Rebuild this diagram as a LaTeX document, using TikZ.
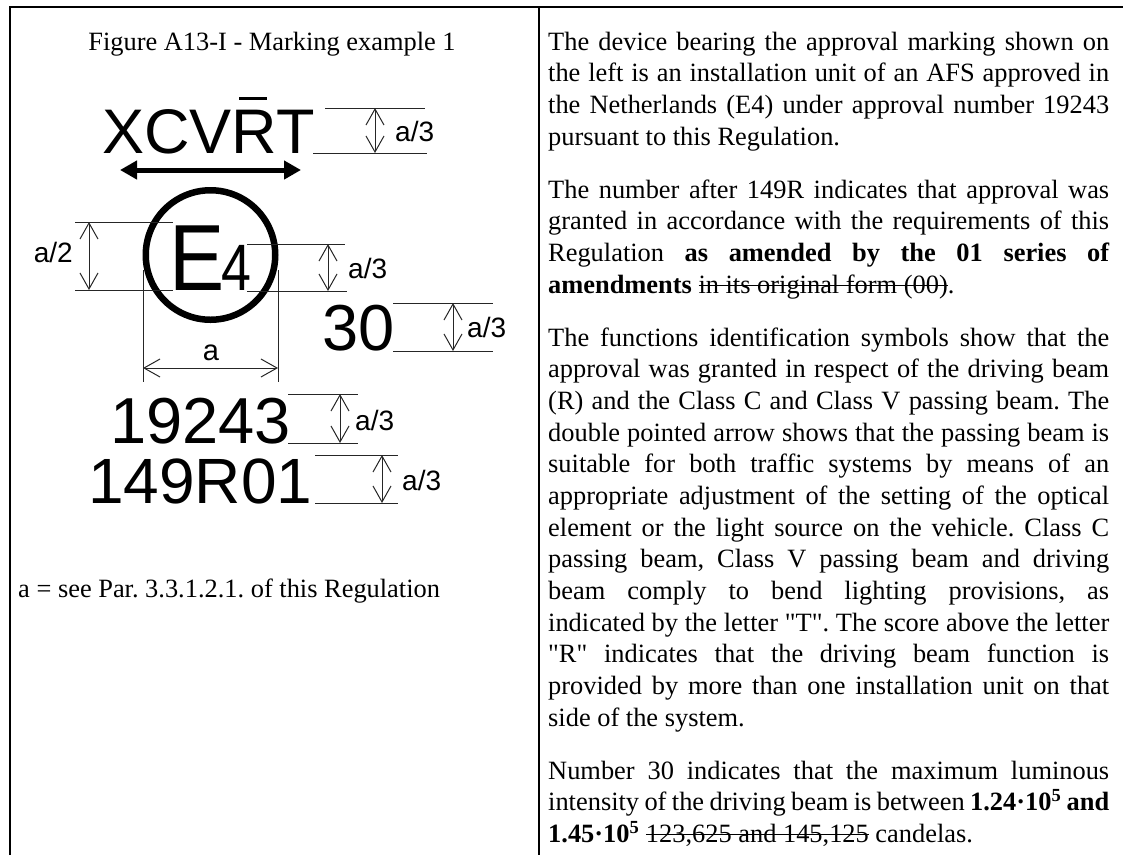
\documentclass[tikz,border=0pt]{standalone}
\usepackage{fontspec}
\setmainfont{Liberation Serif}[Ligatures=TeXOff]
\newfontfamily\arialfont{Liberation Sans}
\newsavebox{\strikebox}
\newcommand{\mystrike}[1]{\sbox{\strikebox}{#1}\rlap{\rule[0.27em]{\wd\strikebox}{1.1pt}}\usebox{\strikebox}}
\usetikzlibrary{arrows.meta}
\tikzset{
  tableline/.style={line width=2.5pt, line join=miter},
  dimline/.style={line width=1pt, black!85},
  dimarrow/.style={dimline, {Straight Barb[length=16pt,width=18pt]}-{Straight Barb[length=16pt,width=18pt]}},
  dimlabel/.style={font=\arialfont\fontsize{28}{28}\selectfont, inner sep=0pt, anchor=west},
  bigsans/.style={font=\arialfont\fontsize{#1}{#1}\selectfont, inner sep=0pt, anchor=base west},
  bodytext/.style={font=\frenchspacing\fontsize{26.4}{31.67}\selectfont, inner sep=0pt}
}
\begin{document}
\begin{tikzpicture}[x=1pt,y=-1pt]
\useasboundingbox (0,0) rectangle (1123,855);
% table frame
\coordinate (tl) at (10,7);
\coordinate (tr) at (1123,7);
\coordinate (bl) at (10,855);
\coordinate (mt) at (539,7);
\coordinate (mb) at (539,855);
\draw[tableline] (bl) -- (tl) -- (tr);
\draw[tableline] (mt) -- (mb);

% title
\node[bodytext, anchor=base] (title) at (272,50) {Figure A13-I - Marking example 1};

% XCVRT with bar over R
\node[bigsans=63] (xcvrt) at (102,153) {XCV\rlap{\hspace{0.12em}\rule[0.84em]{0.44em}{3pt}}RT};
\coordinate (arl) at (120,170);
\coordinate (arr) at (301,170);
\draw[line width=5pt, {Triangle[length=17pt,width=18pt]}-{Triangle[length=17pt,width=18pt]}] (arl) -- (arr);
% dim XCVRT
\coordinate (x1a) at (325,108); \coordinate (x1b) at (425,108);
\coordinate (x2a) at (313,153); \coordinate (x2b) at (427,153);
\draw[dimline] (x1a) -- (x1b);
\draw[dimline] (x2a) -- (x2b);
\coordinate (xt) at (375,108); \coordinate (xb) at (375,153);
\draw[dimarrow] (xt) -- (xb);
\node[dimlabel] (lx) at (395,131) {a/3};

% circle with E4
\node[draw, circle, line width=6.5pt, minimum size=129.5pt, inner sep=0pt] (ring) at (210.5,255) {};
\node[bigsans=94] (e) at (169,290) {\scalebox{0.88}[1]{E}};
\node[bigsans=65.6] (four) at (221.6,290) {\scalebox{0.82}[1]{4}};

% a/2 dim
\coordinate (e1a) at (75,222); \coordinate (e1b) at (173,222);
\coordinate (e2a) at (75,290); \coordinate (e2b) at (173,290);
\draw[dimline] (e1a) -- (e1b);
\draw[dimline] (e2a) -- (e2b);
\coordinate (et) at (89,222); \coordinate (eb) at (89,290);
\draw[dimarrow] (et) -- (eb);
\node[dimlabel, anchor=east] (le) at (73,252) {a/2};

% a/3 dim for 4
\coordinate (f1a) at (247,244); \coordinate (f1b) at (345,244);
\coordinate (f2a) at (247,291); \coordinate (f2b) at (347,291);
\draw[dimline] (f1a) -- (f1b);
\draw[dimline] (f2a) -- (f2b);
\coordinate (ft) at (328,244); \coordinate (fb) at (328,291);
\draw[dimarrow] (ft) -- (fb);
\node[dimlabel] (lf) at (348,268) {a/3};

% 30
\node[bigsans=65] (thirty) at (322,350) {30};
\coordinate (t1a) at (393,303); \coordinate (t1b) at (493,303);
\coordinate (t2a) at (393,351); \coordinate (t2b) at (493,351);
\draw[dimline] (t1a) -- (t1b);
\draw[dimline] (t2a) -- (t2b);
\coordinate (tt) at (453,303); \coordinate (tb) at (453,351);
\draw[dimarrow] (tt) -- (tb);
\node[dimlabel] (lt) at (467,327) {a/3};

% a dimension
\coordinate (al1) at (143,270); \coordinate (al2) at (143,382);
\coordinate (ar1) at (278,270); \coordinate (ar2) at (278,382);
\draw[dimline] (al1) -- (al2);
\draw[dimline] (ar1) -- (ar2);
\coordinate (aa) at (143,368); \coordinate (ab) at (278,368);
\draw[dimarrow] (aa) -- (ab);
\node[font=\arialfont\fontsize{29}{29}\selectfont, inner sep=0pt, anchor=base] (la) at (211,360) {a};

% 19243
\node[bigsans=65] (num) at (110,443) {19243};
\coordinate (n1a) at (288,394); \coordinate (n1b) at (358,394);
\coordinate (n2a) at (288,443); \coordinate (n2b) at (358,443);
\draw[dimline] (n1a) -- (n1b);
\draw[dimline] (n2a) -- (n2b);
\coordinate (nt) at (340,394); \coordinate (nb) at (340,443);
\draw[dimarrow] (nt) -- (nb);
\node[dimlabel] (ln) at (355,420) {a/3};

% 149R01
\node[bigsans=64] (reg) at (88,503) {149R01};
\coordinate (r1a) at (315,455); \coordinate (r1b) at (398,455);
\coordinate (r2a) at (315,503); \coordinate (r2b) at (398,503);
\draw[dimline] (r1a) -- (r1b);
\draw[dimline] (r2a) -- (r2b);
\coordinate (rt) at (382,455); \coordinate (rb) at (382,503);
\draw[dimarrow] (rt) -- (rb);
\node[dimlabel] (lr) at (402,480) {a/3};

% note
\node[bodytext, anchor=base west] (note) at (18,597) {a = see Par. 3.3.1.2.1. of this Regulation};

% right column text
\node[bodytext, anchor=north west, text width=561pt, align=justify] (body) at (548,30) {%
\rule{0pt}{20pt}The device bearing the approval marking shown on\linebreak
the left is an installation unit of an AFS approved in\linebreak
the Netherlands (E4) under approval number 19243\linebreak
pursuant to this Regulation.\par\vspace{21.3pt}
The number after 149R indicates that approval was\linebreak
granted in accordance with the requirements of this\linebreak
Regulation \textbf{as amended by the 01 series of\linebreak
amendments} \mystrike{in its original form (00)}.\par\vspace{21.3pt}
The functions identification symbols show that the\linebreak
approval was granted in respect of the driving beam\linebreak
(R) and the Class C and Class V passing beam. The\linebreak
double pointed arrow shows that the passing beam is\linebreak
suitable for both traffic systems by means of an\linebreak
appropriate adjustment of the setting of the optical\linebreak
element or the light source on the vehicle. Class C\linebreak
passing beam, Class V passing beam and driving\linebreak
beam comply to bend lighting provisions, as\linebreak
indicated by the letter "T". The score above the letter\linebreak
"R" indicates that the driving beam function is\linebreak
provided by more than one installation unit on that\linebreak
side of the system.\par\vspace{21.3pt}
Number 30 indicates that the maximum luminous\linebreak
intensity of the driving beam is between \textbf{1.24·10\textsuperscript{5} and}\linebreak
\textbf{1.45·10\textsuperscript{5}} \mystrike{123,625 and 145,125} candelas.};
\end{tikzpicture}
\end{document}
